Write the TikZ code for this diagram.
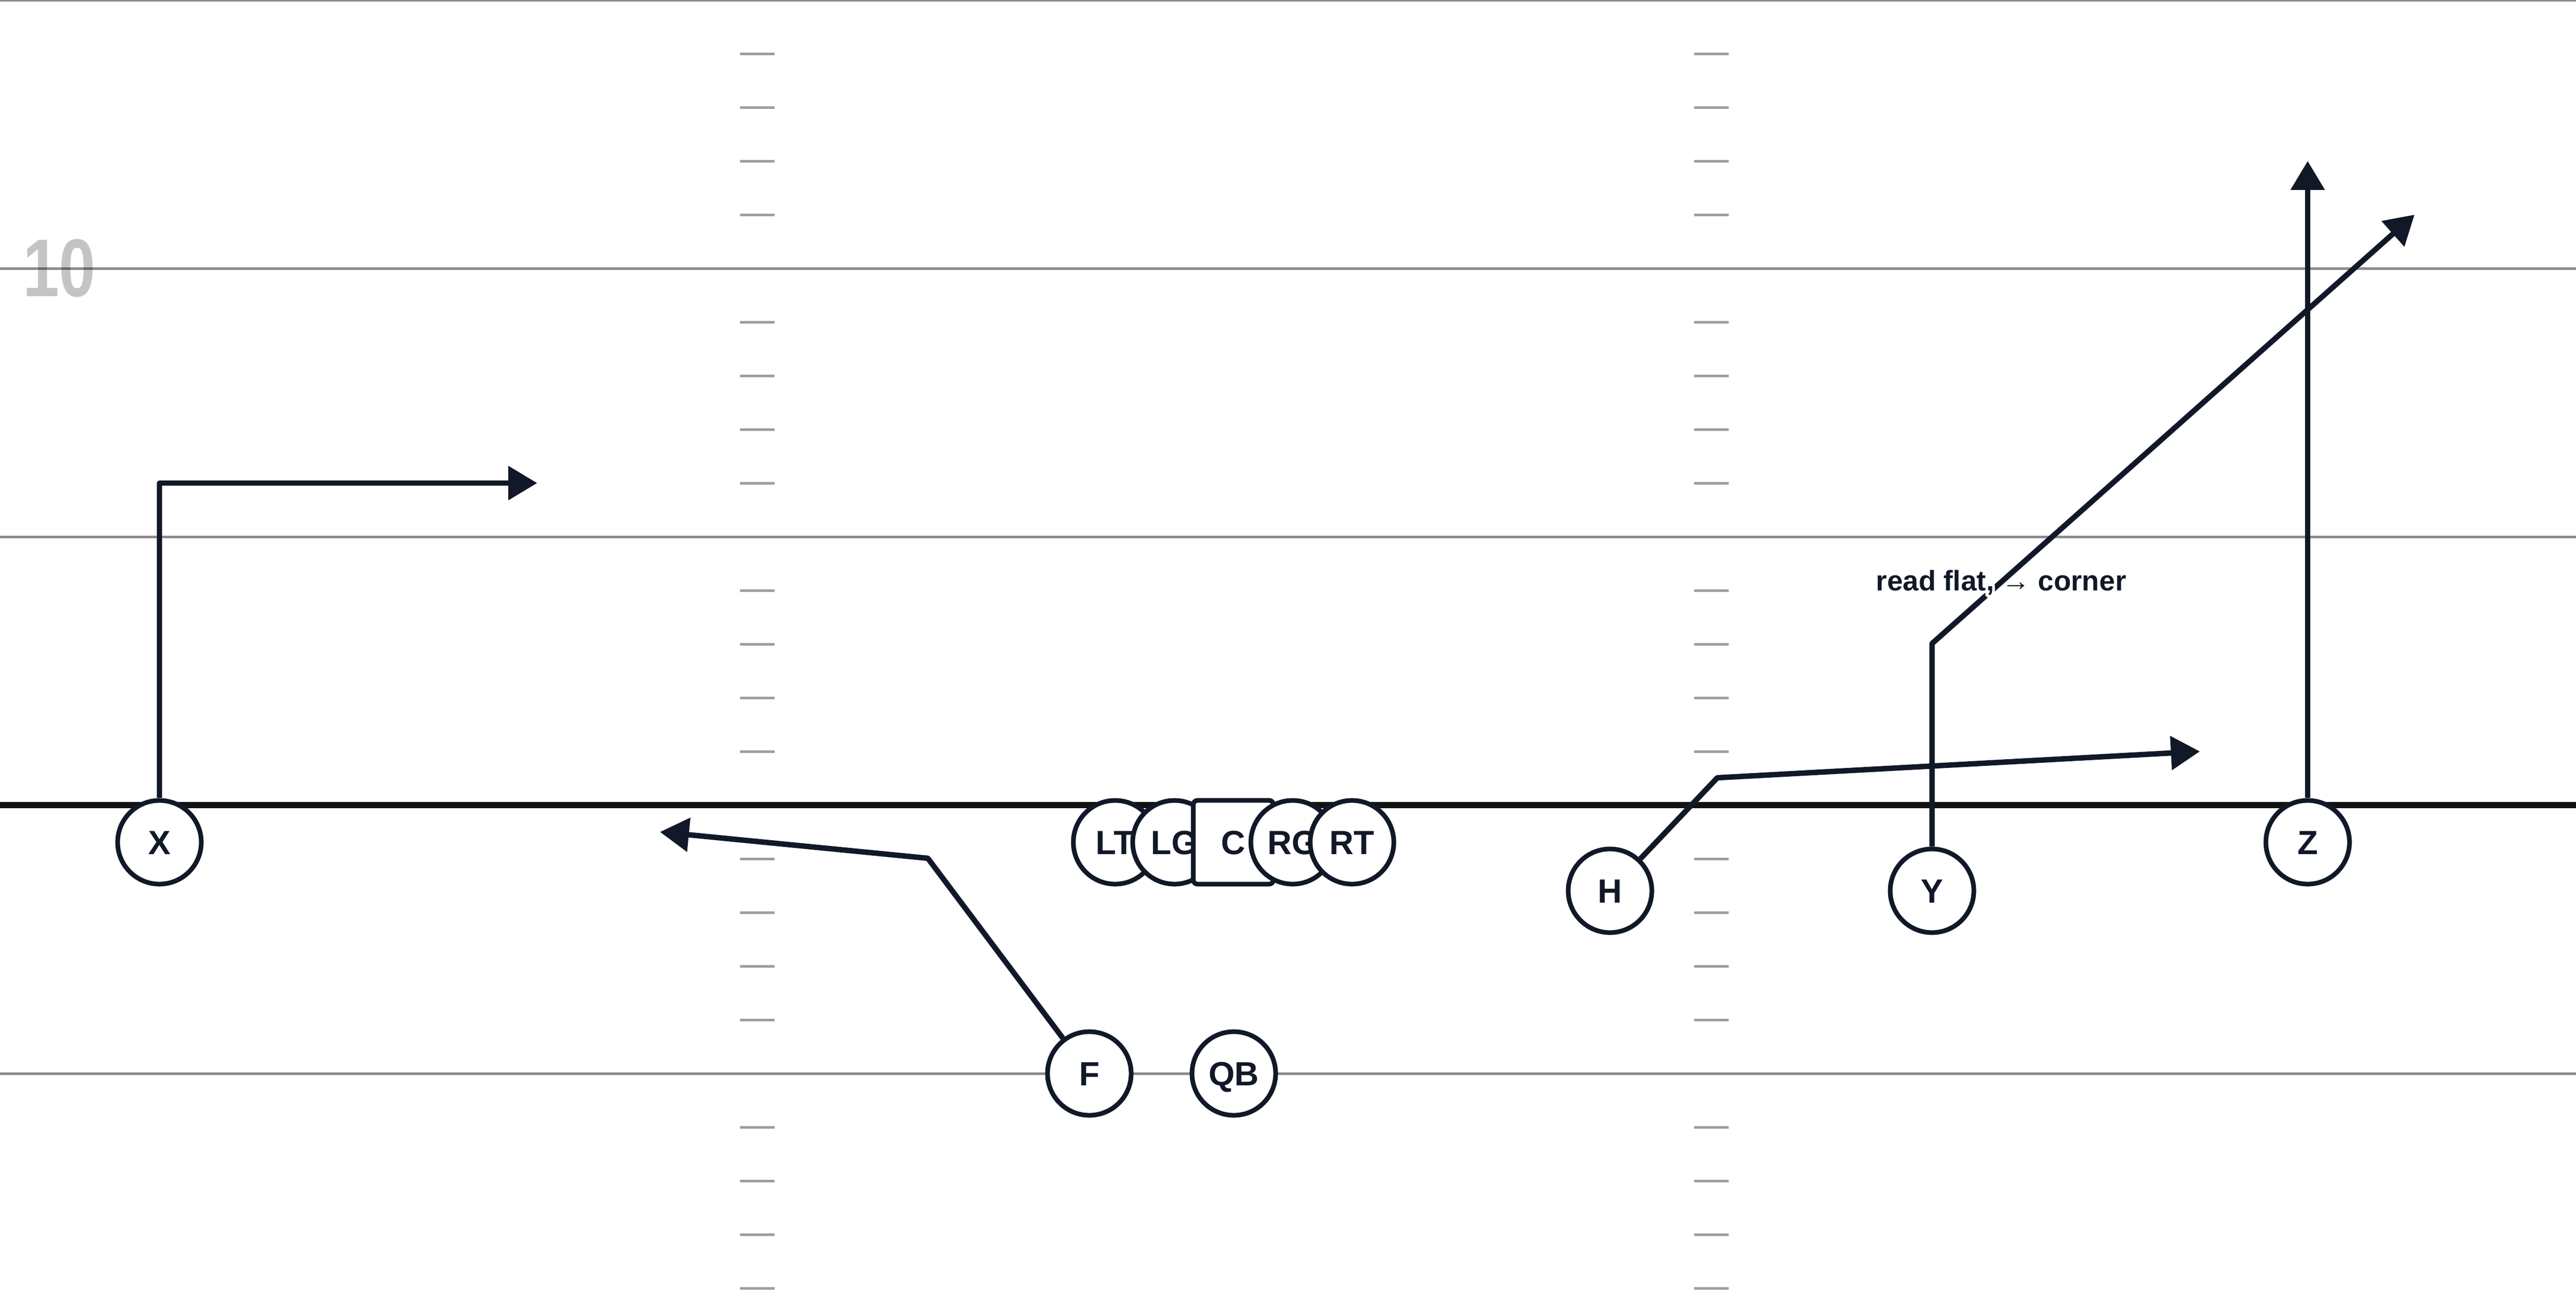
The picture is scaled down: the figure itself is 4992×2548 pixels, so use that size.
\documentclass[tikz,border=0pt]{standalone}
\usepackage{fontspec}
\setmainfont{Liberation Sans}
\usetikzlibrary{arrows.meta}
\definecolor{ink}{HTML}{111827}
\definecolor{losc}{HTML}{111111}
\definecolor{numc}{HTML}{C4C4C4}
\newcommand{\halotext}[1]{%
  \leavevmode\hbox to 0pt{\color{white}%
    \foreach \ang in {0,20,...,340}{%
      \pgfmathsetlengthmacro\hx{1.7pt*cos(\ang)}%
      \pgfmathsetlengthmacro\hy{1.7pt*sin(\ang)}%
      \rlap{\kern\hx\raisebox{\hy}{#1}}}%
    \hss}%
  #1}
\begin{document}
\begin{tikzpicture}[x=0.01cm,y=-0.01cm,
  player/.style={circle,draw=ink,fill=white,line width=0.09cm,minimum size=1.62cm,
    inner sep=0pt,font=\fontsize{18.5}{20}\selectfont\bfseries,text=ink,
    text height=0.466cm,text depth=0pt},
  cbox/.style={player,rectangle,rounded corners=0.08cm,minimum width=1.55cm,minimum height=1.62cm},
  route/.style={draw=ink,line width=0.105cm,line join=round},
  routearrow/.style={route,-{Triangle[length=0.56cm,width=0.64cm]}},
  yardline/.style={line width=0.05cm,draw=black,draw opacity=0.45},
  hashmark/.style={line width=0.05cm,draw=black,draw opacity=0.38},
  ]
\useasboundingbox[fill=white] (0,0) rectangle (4992,2548);
% yard number
\node[text=numc,font=\fontsize{45.2}{50}\selectfont\bfseries,inner sep=0pt] (ten) at (115,520) {\scalebox{0.8}[1]{10}};
% yard lines
\foreach \yy in {0,520,1040,2080} \draw[yardline] (0,\yy) -- (4992,\yy);
% hash marks
\foreach \k in {1,2,3,4,6,7,8,9,11,12,13,14,16,17,18,19,21,22,23,24}{
  \draw[hashmark] (1434,{\k*104}) -- (1501,{\k*104});
  \draw[hashmark] (3283,{\k*104}) -- (3350,{\k*104});
}
% line of scrimmage
\draw[line width=0.12cm,draw=losc] (0,1560) -- (4992,1560);
% players
\node[player] (X) at (309,1632) {X};
\node[player] (LT) at (2161,1632) {LT};
\node[player] (LG) at (2276,1632) {LG};
\node[cbox] (C) at (2390,1632) {C};
\node[player] (RG) at (2505,1632) {RG};
\node[player] (RT) at (2620,1632) {RT};
\node[player] (H) at (3120,1726) {H};
\node[player] (Y) at (3744,1726) {Y};
\node[player] (Z) at (4472,1632) {Z};
\node[player] (F) at (2111,2080) {F};
\node[player] (QB) at (2391,2080) {QB};
% route points
\coordinate (xc) at (309,936);
\coordinate (xt) at (1041,936);
\coordinate (fc) at (1798,1663);
\coordinate (ft) at (1279,1612);
\coordinate (hc) at (3328,1507);
\coordinate (ht) at (4263,1456);
\coordinate (yc) at (3744,1247);
\coordinate (yt) at (4679,416);
\coordinate (zt) at (4472,312);
% routes
\draw[routearrow] (X) -- (xc) -- (xt);
\draw[routearrow] (F) -- (fc) -- (ft);
\draw[routearrow] (H) -- (hc) -- (ht);
\draw[routearrow] (Y) -- (yc) -- (yt);
\draw[routearrow] (Z) -- (zt);
% label
\node[font=\fontsize{15.6}{18}\selectfont\bfseries,text=ink,anchor=base,inner sep=0pt] (lbl) at (3878,1144) {\halotext{read flat, → corner}};
\end{tikzpicture}
\end{document}
